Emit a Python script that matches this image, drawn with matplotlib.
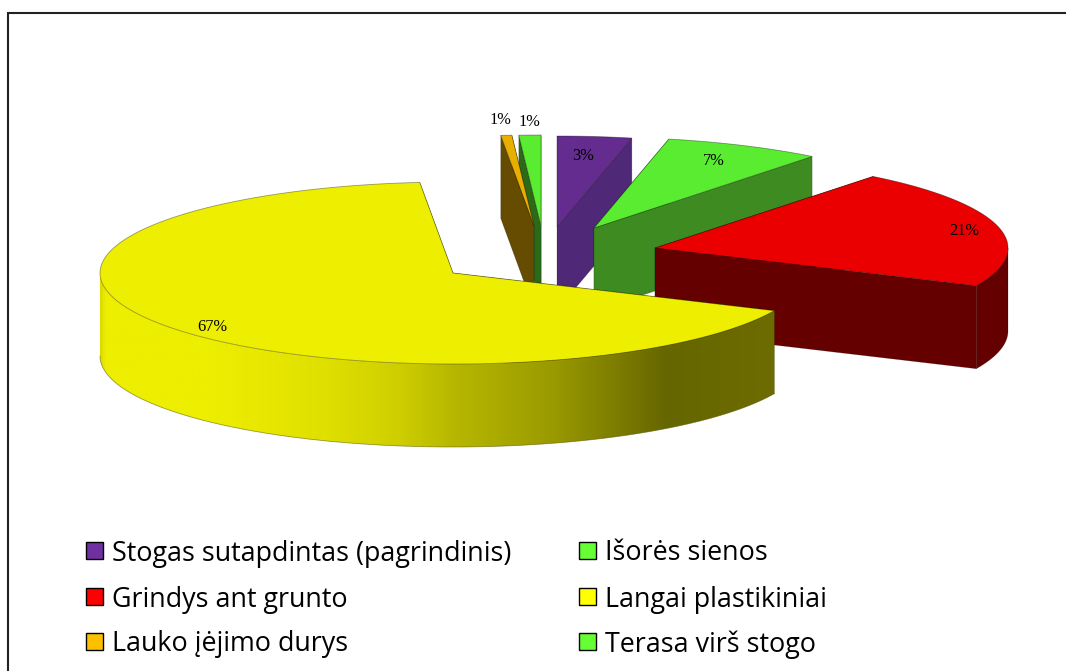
import numpy as np
import matplotlib
matplotlib.use("Agg")
import matplotlib.pyplot as plt
from matplotlib.colors import LinearSegmentedColormap
from matplotlib.patches import Polygon, Rectangle

# ---- data ----
categories = ["Stogas sutapdintas (pagrindinis)", "Išorės sienos", "Grindys ant grunto",
              "Langai plastikiniai", "Lauko įėjimo durys", "Terasa virš stogo"]
shares = [3.4, 7.2, 21.2, 66.7, 0.5, 1.0]
value_labels = ["3%", "7%", "21%", "67%", "1%", "1%"]

# ---- style / layout ----
top_colors = ["#652c90", "#5aec30", "#ea0000", "#eeee00", "#e8ae00", "#5aec30"]
side_colors = ["#4f2878", "#3d8b21", "#640000", "#666600", "#664c00", "#2c6a18"]
legend_colors = ["#7030a0", "#66ff33", "#ff0000", "#ffff00", "#ffc000", "#66ff33"]
apex_x = [557, 594, 655, 453, 534, 541]
apex_y = [227, 228, 248, 273, 226, 226]
label_xy = [(583, 156), (714, 161), (964, 231), (212, 327), (500, 120), (529, 122)]
legend_xy = [(86, 550), (579, 550), (86, 596), (579, 596), (86, 641), (579, 641)]
draw_order = [5, 4, 0, 1, 2, 3]
RX, RY, DEPTH = 353, 91, 83
gradient_stops = [(0.0, "#dcdc00"), (0.006, "#eeee00"), (0.16, "#eeee00"), (0.33, "#e0e000"),
                  (0.44, "#cfcf00"), (0.52, "#b8b800"), (0.67, "#9a9a00"), (0.84, "#666600"),
                  (1.0, "#6c6c00")]

fig = plt.figure(figsize=(10.66, 6.71), dpi=100, facecolor="white")
ax = fig.add_axes([0, 0, 1, 1])
ax.set_xlim(0, 1066)
ax.set_ylim(671, 0)
ax.axis("off")

# frame
ax.plot([8, 8, 1066], [671, 13, 13], color="#222222", lw=1.5, solid_joinstyle="miter", zorder=1)

edges = np.concatenate([[0], np.cumsum(shares)]) / sum(shares) * 2 * np.pi
z = 2


def rim(i, t):
    return apex_x[i] + RX * np.sin(t), apex_y[i] - RY * np.cos(t)


for i in draw_order:
    t0, t1 = edges[i], edges[i + 1]
    ax_, ay_ = apex_x[i], apex_y[i]
    # cut faces, far one first
    cut_order = [t1, t0] if i >= 4 else [t0, t1]
    for t in cut_order:
        rx_, ry_ = rim(i, t)
        face = Polygon([(ax_, ay_), (rx_, ry_), (rx_, ry_ + DEPTH), (ax_, ay_ + DEPTH)],
                       closed=True, fc=side_colors[i], ec="#00000040", lw=0.5, zorder=z)
        ax.add_patch(face)
        z += 1
    # outer band (front half only)
    a, b = max(t0, np.pi / 2), min(t1, 3 * np.pi / 2)
    if b > a:
        tt = np.linspace(a, b, 200)
        xs, ys = rim(i, tt)
        pts = np.vstack([np.column_stack([xs, ys]), np.column_stack([xs[::-1], ys[::-1] + DEPTH])])
        if i == 3:
            band = Polygon(pts, closed=True, fc="none", ec="none", transform=ax.transData)
            ax.add_patch(band)
            cmap = LinearSegmentedColormap.from_list("side", gradient_stops)
            im = ax.imshow(np.linspace(0, 1, 512)[None, :], cmap=cmap, aspect="auto",
                           extent=(xs.min(), xs.max(), 671, 0), zorder=z)
            im.set_clip_path(band)
            ax.set_xlim(0, 1066)
            ax.set_ylim(671, 0)
            ax.plot(xs, ys + DEPTH, color="#55550090", lw=0.6, zorder=z + 0.5)
        else:
            ax.add_patch(Polygon(pts, closed=True, fc=side_colors[i], ec="#00000040", lw=0.5, zorder=z))
        z += 1
    # top
    tt = np.linspace(t0, t1, 200)
    xs, ys = rim(i, tt)
    top = np.vstack([[ax_, ay_], np.column_stack([xs, ys])])
    ax.add_patch(Polygon(top, closed=True, fc=top_colors[i], ec="#00000060", lw=0.6,
                         joinstyle="miter", zorder=z))
    z += 1

for (x, y), s in zip(label_xy, value_labels):
    ax.text(x, y, s, family="Liberation Serif", fontsize=11.8, ha="center", va="center",
            color="black", zorder=z)

for (x, y), name, c in zip(legend_xy, categories, legend_colors):
    ax.add_patch(Rectangle((x, y - 8.5), 17, 17, fc=c, ec="black", lw=1.0, zorder=z))
    ax.text(x + 26, y, name, family="Open Sans", fontsize=19.4, ha="left", va="center_baseline",
            color="black", zorder=z)

fig.savefig("out.png", dpi=100)
